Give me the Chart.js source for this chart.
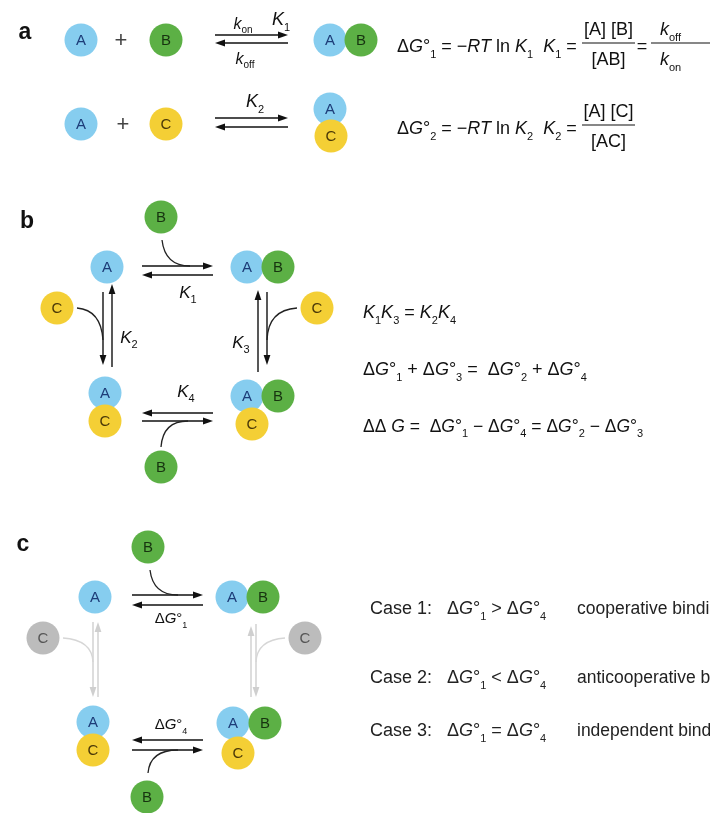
<!DOCTYPE html>
<html>
<head>
<meta charset="utf-8">
<script src="https://cdn.jsdelivr.net/npm/chart.js@4"></script>
<style>
  html, body { margin: 0; padding: 0; background: #fff; }
</style>
</head>
<body>
<canvas id="diagram" width="710" height="813"></canvas>
<script>
// Molecules: label and where they sit (data units = pixels of the 710x813 figure)
const molLabels = ['A', 'B', 'A', 'B', 'A', 'C', 'A', 'C',
  'B', 'A', 'A', 'B', 'C', 'C', 'A', 'C', 'A', 'B', 'C', 'B',
  'B', 'A', 'A', 'B', 'A', 'C', 'A', 'B', 'C', 'B'];
const molX = [81, 166, 330, 361, 81, 166, 330, 331,
  161, 107, 247, 278, 57, 317, 105, 105, 247, 278, 252, 161,
  148, 95, 232, 263, 93, 93, 233, 265, 238, 147];
const molY = [40, 40, 40, 40, 124, 124, 109, 136,
  217, 267, 267, 267, 308, 308, 393, 421, 396, 396, 424, 467,
  547, 597, 597, 597, 722, 750, 723, 723, 753, 797];

// the greyed-out competitor in panel c
const fadedLabels = ['C', 'C'];
const fadedX = [43, 305];
const fadedY = [638, 638];

// straight arrows [x1, y1, x2, y2], head at the second point
const arrows = [
  [215, 35, 288, 35], [288, 43, 215, 43],
  [215, 118, 288, 118], [288, 127, 215, 127],
  [142, 266, 213, 266], [213, 275, 142, 275],
  [103, 292, 103, 365], [112, 367, 112, 284],
  [258, 372, 258, 290], [267, 292, 267, 365],
  [213, 413, 142, 413], [142, 421, 213, 421],
  [132, 595, 203, 595], [203, 605, 132, 605],
  [203, 740, 132, 740], [132, 750, 203, 750]
];
const fadedArrows = [[93, 622, 93, 697], [98, 697, 98, 622], [251, 697, 251, 626], [256, 624, 256, 697]];

// binding curves [start x, y, control x, y, end x, y]
const curves = [
  [162, 240, 165, 266, 190, 266], [77, 308, 101, 310, 103, 340],
  [297, 308, 268, 310, 267, 340], [161, 447, 163, 421, 188, 421],
  [150, 570, 153, 595, 178, 595], [148, 773, 150, 750, 178, 750]
];
const fadedCurves = [[63, 638, 92, 640, 93, 662], [285, 638, 257, 640, 256, 662]];

// equilibrium constants next to the arrows
const constLabels = ['*k*_{on}', '*K*_1', '*k*_{off}', '*K*_2',
  '*K*_1', '*K*_2', '*K*_3', '*K*_4', 'Δ*G*°_1', 'Δ*G*°_4'];
const constPos = [[243, 23, 16], [281, 19, 18], [245, 58, 16], [255, 101, 18],
  [188, 292, 17], [129, 337, 17], [241, 342, 17], [186, 391, 17], [171, 618, 15], [171, 724, 15]];

// equations
const eqLines = [
  'Δ*G*°_1 = −*RT* ln *K*_1  *K*_1 =',
  'Δ*G*°_2 = −*RT* ln *K*_2  *K*_2 =',
  '*K*_1*K*_3 = *K*_2*K*_4',
  'Δ*G*°_1 + Δ*G*°_3 =  Δ*G*°_2 + Δ*G*°_4',
  'ΔΔ *G* =  Δ*G*°_1 − Δ*G*°_4 = Δ*G*°_2 − Δ*G*°_3'
];
const eqPos = [[397, 46], [397, 128], [363, 312], [363, 369], [363, 426]];
const eqSize = [18, 18, 18, 18, 17.5];

// fractions [numerator, denominator, left x, right x, line y]
const fractions = [
  ['[A] [B]', '[AB]', 582, 635, 43],
  ['*k*_{off}', '*k*_{on}', 651, 712, 43],
  ['[A] [C]', '[AC]', 582, 635, 125]
];

const caseNames = ['Case 1:', 'Case 2:', 'Case 3:'];
const caseRelations = ['Δ*G*°_1 > Δ*G*°_4', 'Δ*G*°_1 < Δ*G*°_4', 'Δ*G*°_1 = Δ*G*°_4'];
const caseMeanings = ['cooperative binding', 'anticooperative binding', 'independent binding'];
const caseY = [608, 677, 730];

const panelLetters = ['a', 'b', 'c'];
const panelPos = [[25, 33], [27, 222], [23, 545]];

const FONT = '"Liberation Sans", Arial, Helvetica, sans-serif';
const fill = { A: '#86cdef', B: '#5cb045', C: '#f4cf35', faded: '#bcbcbc' };
const ink = { A: '#1d3c78', B: '#173310', C: '#4a3808', faded: '#555' };

// tiny markup: *..* italic, _x / _{xy} subscript
function parseRich(s) {
  const segs = [];
  let it = false;
  let i = 0;
  while (i < s.length) {
    const ch = s[i];
    if (ch === '*') { it = !it; i++; continue; }
    if (ch === '_' || ch === '^') {
      let t;
      if (s[i + 1] === '{') { const j = s.indexOf('}', i); t = s.slice(i + 2, j); i = j + 1; }
      else { t = s[i + 1]; i += 2; }
      segs.push({ t: t, mode: ch === '_' ? 'sub' : 'sup', it: false });
      continue;
    }
    const last = segs[segs.length - 1];
    if (last && last.mode === 'n' && last.it === it) last.t += ch;
    else segs.push({ t: ch, mode: 'n', it: it });
    i++;
  }
  return segs;
}

function fontFor(seg, size) {
  const sz = seg.mode === 'n' ? size : Math.round(size * 0.62);
  return (seg.it ? 'italic ' : '') + sz + 'px ' + FONT;
}

function drawRich(ctx, s, x, y, size, align, color) {
  const segs = parseRich(s);
  let w = 0;
  segs.forEach(seg => {
    ctx.font = fontFor(seg, size);
    seg.w = ctx.measureText(seg.t).width;
    w += seg.w;
  });
  let cx = align === 'center' ? x - w / 2 : x;
  const base = y + size * 0.36;
  ctx.fillStyle = color;
  ctx.textAlign = 'left';
  ctx.textBaseline = 'alphabetic';
  segs.forEach(seg => {
    ctx.font = fontFor(seg, size);
    let by = base;
    if (seg.mode === 'sub') by = base + size * 0.28;
    if (seg.mode === 'sup') by = base - size * 0.42;
    ctx.fillText(seg.t, cx, by);
    cx += seg.w;
  });
}

function drawArrow(ctx, x1, y1, x2, y2, color) {
  const ang = Math.atan2(y2 - y1, x2 - x1);
  const hl = 10, hw = 3.4;
  const c = Math.cos(ang), s = Math.sin(ang);
  ctx.strokeStyle = color;
  ctx.fillStyle = color;
  ctx.lineWidth = 1.4;
  ctx.beginPath();
  ctx.moveTo(x1, y1);
  ctx.lineTo(x2 - hl * 0.7 * c, y2 - hl * 0.7 * s);
  ctx.stroke();
  ctx.beginPath();
  ctx.moveTo(x2, y2);
  ctx.lineTo(x2 - hl * c - hw * s, y2 - hl * s + hw * c);
  ctx.lineTo(x2 - hl * c + hw * s, y2 - hl * s - hw * c);
  ctx.closePath();
  ctx.fill();
}

const diagramPlugin = {
  id: 'diagram',
  beforeDatasetsDraw(chart) {
    const ctx = chart.ctx;
    const px = v => chart.scales.x.getPixelForValue(v);
    const py = v => chart.scales.y.getPixelForValue(v);
    ctx.save();
    fadedArrows.forEach(a => drawArrow(ctx, px(a[0]), py(a[1]), px(a[2]), py(a[3]), '#cfcfcf'));
    arrows.forEach(a => drawArrow(ctx, px(a[0]), py(a[1]), px(a[2]), py(a[3]), '#111'));
    const curve = (c, color) => {
      ctx.strokeStyle = color;
      ctx.lineWidth = 1.3;
      ctx.beginPath();
      ctx.moveTo(px(c[0]), py(c[1]));
      ctx.quadraticCurveTo(px(c[2]), py(c[3]), px(c[4]), py(c[5]));
      ctx.stroke();
    };
    fadedCurves.forEach(c => curve(c, '#d6d6d6'));
    curves.forEach(c => curve(c, '#222'));
    ctx.restore();
  },
  afterDatasetsDraw(chart) {
    const ctx = chart.ctx;
    const px = v => chart.scales.x.getPixelForValue(v);
    const py = v => chart.scales.y.getPixelForValue(v);
    ctx.save();

    // letters inside the circles
    chart.data.datasets.forEach((ds, i) => {
      chart.getDatasetMeta(i).data.forEach((pt, j) => {
        ctx.font = '15px ' + FONT;
        ctx.textAlign = 'center';
        ctx.textBaseline = 'middle';
        ctx.fillStyle = ink[ds.kind];
        ctx.fillText(ds.data[j].l, pt.x, pt.y + 1);
      });
    });

    // panel letters
    panelLetters.forEach((l, i) => {
      ctx.font = 'bold 23px ' + FONT;
      ctx.textAlign = 'center';
      ctx.textBaseline = 'middle';
      ctx.fillStyle = '#111';
      ctx.fillText(l, px(panelPos[i][0]), py(panelPos[i][1]));
    });

    // plus signs in panel a
    ctx.font = '22px ' + FONT;
    ctx.fillStyle = '#444';
    ctx.fillText('+', px(121), py(41));
    ctx.fillText('+', px(123), py(125));

    constLabels.forEach((l, i) => {
      const p = constPos[i];
      drawRich(ctx, l, px(p[0]), py(p[1]), p[2], 'center', '#111');
    });

    eqLines.forEach((l, i) => drawRich(ctx, l, px(eqPos[i][0]), py(eqPos[i][1]), eqSize[i], 'left', '#111'));

    fractions.forEach(f => {
      const mid = (f[2] + Math.min(f[3], 690)) / 2;
      drawRich(ctx, f[0], px(mid), py(f[4] - 14), 18, 'center', '#111');
      drawRich(ctx, f[1], px(mid), py(f[4] + 16), 18, 'center', '#111');
      ctx.strokeStyle = '#111';
      ctx.lineWidth = 1.2;
      ctx.beginPath();
      ctx.moveTo(px(f[2]), py(f[4]));
      ctx.lineTo(px(f[3]), py(f[4]));
      ctx.stroke();
    });
    drawRich(ctx, '=', px(642), py(46), 18, 'center', '#111');

    caseNames.forEach((n, i) => {
      drawRich(ctx, n, px(370), py(caseY[i]), 18, 'left', '#222');
      drawRich(ctx, caseRelations[i], px(447), py(caseY[i]), 18, 'left', '#222');
      drawRich(ctx, caseMeanings[i], px(577), py(caseY[i]), 17.5, 'left', '#222');
    });
    ctx.restore();
  }
};

function speciesPoints(sp) {
  const pts = [];
  molLabels.forEach((l, i) => { if (l === sp) pts.push({ x: molX[i], y: molY[i], l: l }); });
  return pts;
}

function molDataset(kind, data, order) {
  return {
    kind: kind,
    data: data,
    order: order,
    pointRadius: 16.5,
    pointHoverRadius: 16.5,
    pointBorderWidth: 0,
    pointBackgroundColor: fill[kind],
    borderColor: fill[kind],
    showLine: false,
    clip: false
  };
}

new Chart(document.getElementById('diagram'), {
  type: 'scatter',
  data: {
    datasets: [
      molDataset('C', speciesPoints('C'), 0),
      molDataset('B', speciesPoints('B'), 1),
      molDataset('A', speciesPoints('A'), 2),
      molDataset('faded', fadedLabels.map((l, i) => ({ x: fadedX[i], y: fadedY[i], l: l })), 3)
    ]
  },
  options: {
    responsive: false,
    animation: false,
    devicePixelRatio: 1,
    layout: { padding: 0, autoPadding: false },
    events: [],
    scales: {
      x: { type: 'linear', min: 0, max: 710, display: false },
      y: { type: 'linear', min: 0, max: 813, reverse: true, display: false }
    },
    plugins: {
      legend: { display: false },
      tooltip: { enabled: false }
    }
  },
  plugins: [diagramPlugin]
});
</script>
</body>
</html>
